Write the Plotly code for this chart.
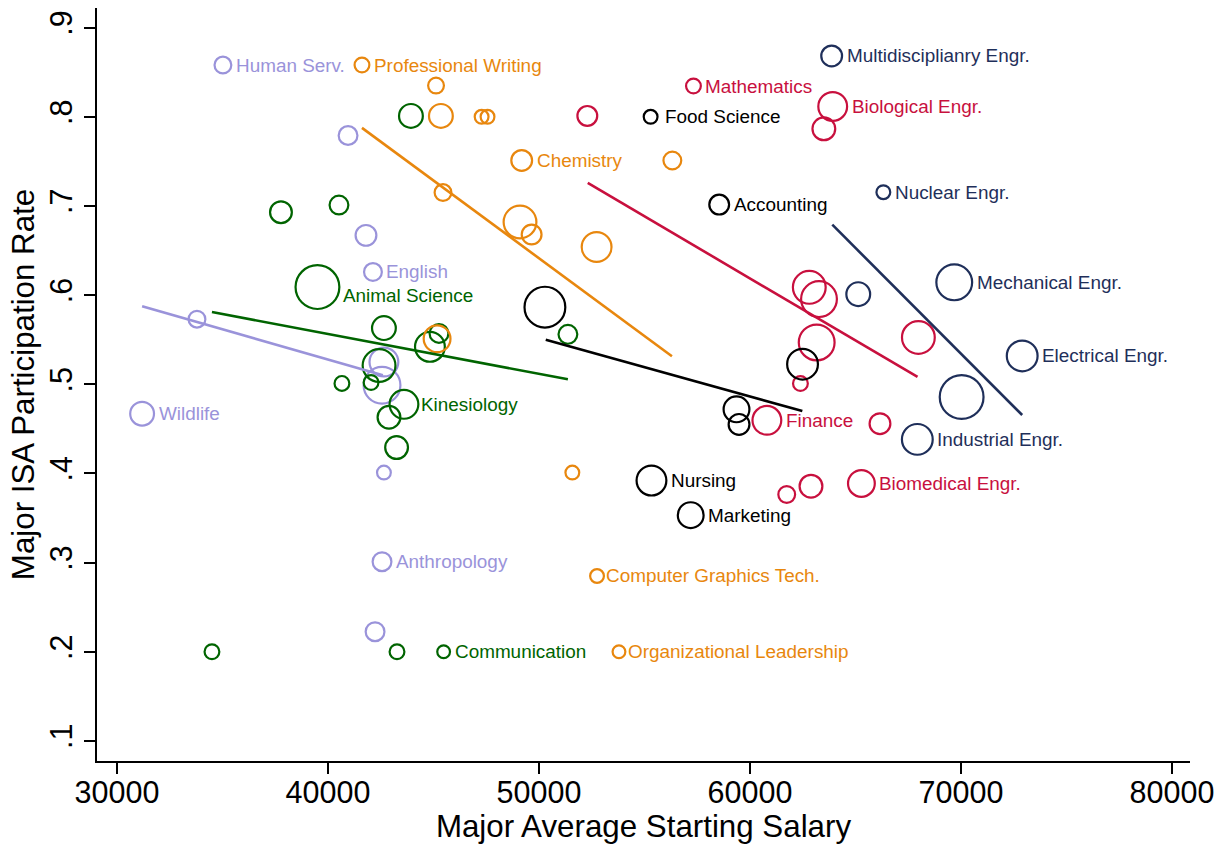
import numpy as np
import plotly.graph_objects as go

# ---------------- data ----------------
lav_names = ["Human Serv.", "", "", "English", "", "Wildlife", "", "", "", "Anthropology", ""]
lav_salary = [35020, 40950, 41800, 42130, 33790, 31190, 42650, 42560, 42650, 42560, 42230]
lav_rate = [0.858, 0.779, 0.667, 0.626, 0.573, 0.467, 0.525, 0.499, 0.401, 0.301, 0.2225]
lav_n = [90, 110, 132, 100, 90, 169, 240, 380, 64, 110, 110]

grn_names = ["", "", "", "Animal Science", "", "", "", "", "", "", "Kinesiology", "", "", "", "", "", "Communication"]
grn_salary = [43930, 37770, 40520, 39500, 42650, 45260, 44830, 42420, 40660, 42040, 43600, 42890, 43250, 51370, 34500, 43270, 45480]
grn_rate = [0.801, 0.693, 0.701, 0.609, 0.563, 0.557, 0.542, 0.521, 0.501, 0.502, 0.4775, 0.463, 0.429, 0.556, 0.2, 0.2, 0.2]
grn_n = [169, 144, 110, 529, 169, 110, 256, 306, 72, 72, 240, 156, 156, 110, 72, 72, 56]

org_names = ["Professional Writing", "", "", "", "", "Chemistry", "", "", "", "", "", "", "",
             "Computer Graphics Tech.", "Organizational Leadership"]
org_salary = [41610, 45120, 45350, 47280, 47560, 49180, 56320, 45450, 49100, 49650, 52730, 45170, 51580, 52750, 53790]
org_rate = [0.858, 0.835, 0.801, 0.8, 0.8, 0.751, 0.751, 0.715, 0.682, 0.668, 0.654, 0.551, 0.401, 0.285, 0.2]
org_n = [72, 81, 169, 64, 64, 132, 100, 90, 306, 121, 256, 210, 64, 64, 56]

crm_names = ["Mathematics", "", "Biological Engr.", "", "", "", "", "", "Finance", "", "", "Biomedical Engr.", "", ""]
crm_salary = [57320, 52290, 63920, 63500, 62810, 63270, 63160, 62390, 60800, 66160, 67980, 65280, 62890, 61740]
crm_rate = [0.8345, 0.801, 0.8116, 0.7865, 0.6087, 0.5955, 0.5469, 0.5008, 0.4596, 0.4558, 0.5525, 0.3888, 0.3857, 0.3764]
crm_n = [72, 121, 240, 156, 306, 361, 361, 72, 240, 132, 306, 210, 156, 90]

blk_names = ["Food Science", "Accounting", "", "", "", "", "Nursing", "Marketing"]
blk_salary = [55290, 58540, 50280, 62490, 59360, 59480, 55330, 57190]
blk_rate = [0.8, 0.7015, 0.5865, 0.5225, 0.4719, 0.455, 0.392, 0.3532]
blk_n = [64, 121, 462, 272, 196, 132, 256, 196]

nvy_names = ["Multidisciplianry Engr.", "Nuclear Engr.", "Mechanical Engr.", "", "Electrical Engr.", "", "Industrial Engr."]
nvy_salary = [63870, 66320, 69680, 65130, 72900, 70030, 67930]
nvy_rate = [0.8682, 0.7154, 0.6143, 0.6011, 0.5318, 0.4857, 0.4382]
nvy_n = [132, 64, 361, 169, 272, 529, 272]

# linear-fit endpoints per group
lav_fit_salary = [31190, 42600]
lav_fit_rate = [0.5876, 0.510]
grn_fit_salary = [34500, 51370]
grn_fit_rate = [0.581, 0.5056]
org_fit_salary = [41610, 56300]
org_fit_rate = [0.7876, 0.5315]
crm_fit_salary = [52310, 67940]
crm_fit_rate = [0.7258, 0.5082]
blk_fit_salary = [50320, 62480]
blk_fit_rate = [0.5498, 0.470]
nvy_fit_salary = [63900, 72900]
nvy_fit_rate = [0.679, 0.4655]

y_ticks = [0.1, 0.2, 0.3, 0.4, 0.5, 0.6, 0.7, 0.8, 0.9]
y_ticktext = [".1", ".2", ".3", ".4", ".5", ".6", ".7", ".8", ".9"]
x_ticks = [30000, 40000, 50000, 60000, 70000, 80000]
x_ticktext = ["30000", "40000", "50000", "60000", "70000", "80000"]

# ---------------- styling ----------------
FONT = "Liberation Sans, Arial, Helvetica, sans-serif"
LW = 2.2
# small per-label nudges (px) to mimic label placement
label_nudge = {
    "Animal Science": (-1, -8),
    "Computer Graphics Tech.": (-3, 0),
    "Organizational Leadership": (-2, 0),
    "Food Science": (3, 0),
    "Kinesiology": (-2, 0),
}
groups = [
    (lav_names, lav_salary, lav_rate, lav_n, lav_fit_salary, lav_fit_rate, "#9A93DA"),
    (grn_names, grn_salary, grn_rate, grn_n, grn_fit_salary, grn_fit_rate, "#006400"),
    (org_names, org_salary, org_rate, org_n, org_fit_salary, org_fit_rate, "#E8870E"),
    (crm_names, crm_salary, crm_rate, crm_n, crm_fit_salary, crm_fit_rate, "#C8103E"),
    (blk_names, blk_salary, blk_rate, blk_n, blk_fit_salary, blk_fit_rate, "#000000"),
    (nvy_names, nvy_salary, nvy_rate, nvy_n, nvy_fit_salary, nvy_fit_rate, "#1F2F5A"),
]

fig = go.Figure()
annotations = []
for names, sal, rate, n, fx, fy, col in groups:
    diam = 2 * np.sqrt(np.array(n, dtype=float))
    fig.add_trace(go.Scatter(
        x=sal, y=rate, mode="markers",
        marker=dict(size=diam - LW, color="rgba(0,0,0,0)", opacity=1,
                    line=dict(color=col, width=LW)),
        hoverinfo="skip", showlegend=False, cliponaxis=False))
    for nm, xv, yv, d in zip(names, sal, rate, diam):
        if nm:
            dx, dy = label_nudge.get(nm, (0, 0))
            annotations.append(dict(
                x=xv, y=yv, xref="x", yref="y", text=nm, showarrow=False,
                xanchor="left", yanchor="middle", xshift=d / 2 + 1.5 + dx, yshift=dy,
                font=dict(family=FONT, size=18.9, color=col)))
for names, sal, rate, n, fx, fy, col in groups:
    fig.add_trace(go.Scatter(
        x=fx, y=fy, mode="lines", line=dict(color=col, width=2.6),
        hoverinfo="skip", showlegend=False))

fig.update_layout(
    width=1225, height=848,
    margin=dict(l=97, r=35, t=8, b=87),
    paper_bgcolor="white", plot_bgcolor="white",
    font=dict(family=FONT, color="black"),
    annotations=annotations,
    showlegend=False,
)
fig.update_xaxes(
    range=[29052, 80853], tickvals=x_ticks, ticktext=x_ticktext,
    showline=True, linecolor="black", linewidth=2, mirror=False,
    ticks="outside", ticklen=11, tickwidth=2, tickcolor="black",
    ticklabelstandoff=-8,
    showgrid=False, zeroline=False,
    tickfont=dict(family=FONT, size=30.5, color="black"),
    title=dict(text="Major Average Starting Salary",
               font=dict(family=FONT, size=31.3, color="black"), standoff=2),
    automargin=False,
)
fig.update_yaxes(
    range=[0.0775, 0.922], tickvals=y_ticks, ticktext=y_ticktext, tickangle=-90,
    showline=True, linecolor="black", linewidth=2, mirror=False,
    ticks="outside", ticklen=11, tickwidth=2, tickcolor="black",
    showgrid=False, zeroline=False,
    tickfont=dict(family=FONT, size=30.5, color="black"),
    title=dict(text="Major ISA Participation Rate",
               font=dict(family=FONT, size=31.3, color="black"), standoff=0),
    automargin=False,
)

fig.write_html("out.html", config={"displayModeBar": False},
               post_script="document.body.style.margin='0';document.body.style.overflow='hidden';")
